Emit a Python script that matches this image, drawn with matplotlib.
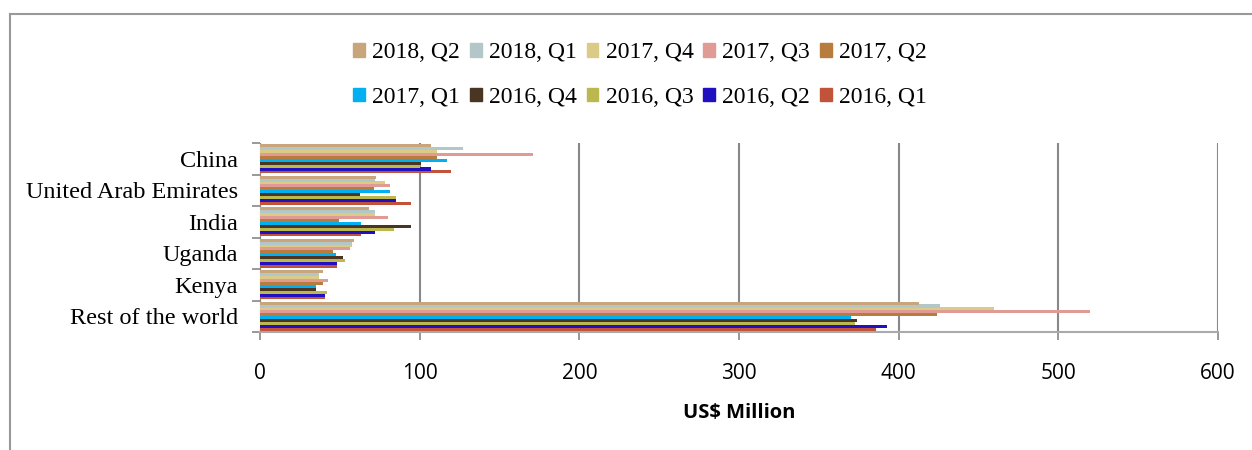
import matplotlib.pyplot as plt
from matplotlib.lines import Line2D
from matplotlib.patches import Patch
import numpy as np

countries = ["Rest of the world", "Kenya", "Uganda", "India", "United Arab Emirates", "China"]

# series listed bottom bar to top bar within each group
series = ["2016, Q1", "2016, Q2", "2016, Q3", "2016, Q4", "2017, Q1",
          "2017, Q2", "2017, Q3", "2017, Q4", "2018, Q1", "2018, Q2"]
colors = ["#c0533a", "#2010c0", "#bcb850", "#4a3422", "#00b0f0",
          "#b87c3e", "#e09c94", "#dccb86", "#b3c7c9", "#c9a57c"]

# values per series, in the order of countries
q1_2016 = [386, 40.5, 48.4, 63, 94.3, 119.4]
q2_2016 = [393, 40.5, 48.4, 72, 85, 106.8]
q3_2016 = [372.6, 41.7, 53, 83.7, 85, 100]
q4_2016 = [373.8, 34.9, 52, 94.3, 62.6, 101]
q1_2017 = [370, 34.9, 47.4, 63.2, 81.6, 116.9]
q2_2017 = [423.7, 39.4, 46, 49.5, 71.4, 111]
q3_2017 = [520, 42.6, 56.4, 80.4, 81.6, 170.7]
q4_2017 = [459.6, 37, 57.4, 72, 78, 111]
q1_2018 = [426.2, 37, 57.4, 72, 72, 127.3]
q2_2018 = [412.6, 39.4, 58.9, 68.3, 72.4, 106.8]

values = [q1_2016, q2_2016, q3_2016, q4_2016, q1_2017,
          q2_2017, q3_2017, q4_2017, q1_2018, q2_2018]

fig = plt.figure(figsize=(12.52, 4.5), dpi=100)
ax = fig.add_axes([260 / 1252, 118 / 450, 958 / 1252, 189 / 450])

y = np.arange(len(countries))
n = len(series)
group = 0.93
h = group / n
for i in range(n):
    ax.barh(y - group / 2 + h * (i + 0.5), values[i], height=h * 1.05,
            color=colors[i], label=series[i], zorder=3)

ax.set_xlim(0, 600)
ax.set_ylim(-0.5, len(countries) - 0.5)
ax.set_xticks(range(0, 601, 100))
ax.set_yticks(y)
ax.set_yticklabels(countries, family="Liberation Serif", fontsize=17.5)
ax.set_yticks(np.arange(-0.5, len(countries), 1), minor=True)
ax.tick_params(axis="y", which="major", length=0, pad=16)
ax.tick_params(axis="y", which="minor", length=6, color="#888888", width=1.2)
ax.tick_params(axis="x", length=6, color="#888888", width=1.2, pad=16,
               labelsize=15)
for lbl in ax.get_xticklabels():
    lbl.set_family("Open Sans")

ax.grid(axis="x", color="#888888", linewidth=1.5, zorder=0)
for s in ["top", "right"]:
    ax.spines[s].set_visible(False)
ax.spines["left"].set_color("#888888")
ax.spines["bottom"].set_color("#aaaaaa")
ax.spines["bottom"].set_linewidth(1.5)

ax.set_xlabel("US$ Million", family="Open Sans", fontweight="bold",
              fontsize=14.5, labelpad=14)

# legend: row 1 = 2018 Q2 .. 2017 Q2, row 2 = 2017 Q1 .. 2016 Q1
order = list(range(n - 1, -1, -1))
row1, row2 = order[:5], order[5:]
legend_order = [k for pair in zip(row1, row2) for k in pair]
handles = [Patch(color=colors[k]) for k in legend_order]
labels = [series[k] for k in legend_order]
fig.legend(handles, labels, loc="center", bbox_to_anchor=(640 / 1252, 1 - 75 / 450),
           ncol=5, frameon=False, prop={"family": "Liberation Serif", "size": 17},
           handlelength=0.5, handleheight=0.5, handletextpad=0.3,
           columnspacing=0.42, labelspacing=1.0)

# outer chart border
fig.add_artist(Line2D([9.5 / 1252, 1], [1 - 14 / 450, 1 - 14 / 450],
                      color="#999999", linewidth=1.5))
fig.add_artist(Line2D([9.5 / 1252, 9.5 / 1252], [0, 1 - 14 / 450],
                      color="#999999", linewidth=1.5))

fig.savefig("out.png", dpi=100)
